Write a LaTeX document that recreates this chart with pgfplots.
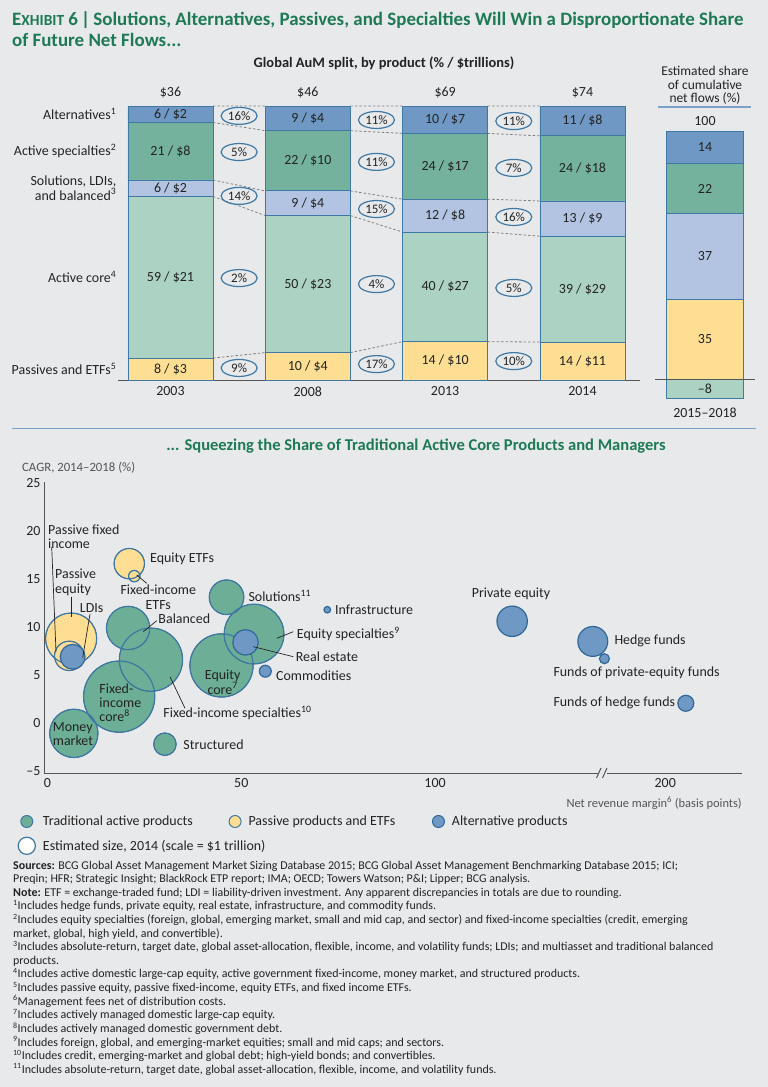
\documentclass[border=0pt]{standalone}
\usepackage{fontspec}
\setmainfont{Carlito}
\usepackage{pgfplots}
\pgfplotsset{compat=1.18}
\usepackage{pgfplotstable}
\usetikzlibrary{shapes.geometric}

\definecolor{bgc}{RGB}{232,233,235}
\definecolor{titlegreen}{RGB}{29,122,84}
\definecolor{altc}{RGB}{112,152,196}
\definecolor{specc}{RGB}{116,178,157}
\definecolor{solc}{RGB}{178,196,226}
\definecolor{corec}{RGB}{172,210,196}
\definecolor{passc}{RGB}{253,222,146}
\definecolor{bline}{RGB}{62,120,165}
\definecolor{dkblue}{RGB}{47,104,152}
\definecolor{bgreen}{RGB}{108,174,150}
\definecolor{axgray}{RGB}{85,85,85}
\definecolor{txt}{RGB}{35,35,35}
\definecolor{sepblue}{RGB}{126,159,198}

\protected\def\dol{\$}

% AuM share by product (%), bottom to top; 2014 rescaled to 100
\pgfplotstableread{
x pass core sol spec alt
0 8 59 6 21 6
1 10 50 9 22 9
2 14 40 12 24 10
3 13.86 38.61 12.87 23.76 10.89
}\aumshare

% estimated share of cumulative net flows 2015-2018 (positive parts)
\pgfplotstableread{
x pass sol spec alt
0 35 37 22 14
}\flows

% bubbles: net revenue margin (bp; points after the axis break on display scale),
% CAGR 2014-2018 (%), estimated size 2014 ($ trillions)
\pgfplotstableread{
name x y size
FIcore 18.5 2.75 16.5
FIspec 26.7 6.6 13.0
EqCore 44.9 6.0 13.0
EqSpec 53.3 9.27 11.6
MoneyMkt 6.8 -1.07 7.6
Balanced 20.8 9.9 6.1
Solutions 46.2 13.1 3.9
Structured 30.3 -2.2 1.65
}\bubtrad
\pgfplotstableread{
name x y size
PassEq 6.1 8.8 8.5
EqETF 21.1 16.6 3.0
PassFI 5.6 7.0 2.8
FIETF 22.4 15.3 0.42
}\bubpass
\pgfplotstableread{
name x y size
PrivEq 119.9 10.6 3.0
Hedge 140.7 8.5 2.9
RealEst 51.1 8.4 2.1
LDI 6.5 6.9 2.0
FoHF 164.7 2.06 0.83
Commod 56.2 5.4 0.46
FoPE 143.7 6.7 0.32
Infra 72.2 11.8 0.14
}\bubalt

\tikzset{
  lbl/.style={font=\fontsize{14}{14.2}\selectfont, text=txt, inner sep=0pt},
  lead/.style={draw=txt, line width=0.7bp},
}
\pgfplotsset{
  bubsize/.style={
    visualization depends on={8.8*sqrt(\thisrow{size}) \as \rad},
    scatter/@pre marker code/.append style={/tikz/mark size=\rad}},
}

\begin{document}
\begin{tikzpicture}
\fill[bgc] (0,0) rectangle (768bp,-1087bp);

% ---------- top left: stacked bars ----------
\begin{axis}[
  at={(118bp,-380bp)}, anchor=south west,
  width=522bp, height=274bp, scale only axis,
  xmin=-0.382, xmax=3.419, ymin=0, ymax=100,
  ybar stacked, bar width=0.619,
  axis x line*=bottom, axis y line*=left,
  x axis line style={draw=axgray, line width=1bp, -},
  y axis line style={draw=none},
  major tick length=0pt,
  xtick={0,1,2,3}, xticklabels={2003,2008,2013,2014},
  ytick={4,37.5,70,83.5,97},
  yticklabels={Passives and ETFs\textsuperscript{5}, Active core\textsuperscript{4},
    {Solutions, LDIs,\\and balanced\textsuperscript{3}}, Active specialties\textsuperscript{2},
    Alternatives\textsuperscript{1}},
  tick label style={font=\fontsize{14}{14.2}\selectfont, text=txt},
  yticklabel style={align=right, inner sep=1.5bp},
  xticklabel style={yshift=-3bp},
  every axis plot/.append style={draw=bline, line width=0.9bp},
]
\addplot[fill=passc] table[x=x,y=pass]{\aumshare};
\addplot[fill=corec] table[x=x,y=core]{\aumshare};
\addplot[fill=solc] table[x=x,y=sol]{\aumshare};
\addplot[fill=specc] table[x=x,y=spec]{\aumshare};
\addplot[fill=altc] table[x=x,y=alt]{\aumshare};
\end{axis}

% overlay: connectors, segment labels, growth ovals
\begin{axis}[
  at={(118bp,-380bp)}, anchor=south west,
  width=522bp, height=274bp, scale only axis,
  xmin=-0.382, xmax=3.419, ymin=0, ymax=100,
  hide axis, clip=false,
]
\addplot[draw=gray, dash pattern=on 2.5bp off 2bp, line width=0.8bp, unbounded coords=jump] table {
x y
0.3095 8
0.6905 10
nan nan
0.3095 67
0.6905 60
nan nan
0.3095 73
0.6905 69
nan nan
0.3095 94
0.6905 91
nan nan
0.3095 100
0.6905 100
nan nan
1.3095 10
1.6905 14
nan nan
1.3095 60
1.6905 54
nan nan
1.3095 69
1.6905 66
nan nan
1.3095 91
1.6905 90
nan nan
1.3095 100
1.6905 100
nan nan
2.3095 14
2.6905 13.86
nan nan
2.3095 54
2.6905 52.47
nan nan
2.3095 66
2.6905 65.34
nan nan
2.3095 90
2.6905 89.1
nan nan
2.3095 100
2.6905 100
};
\addplot[draw=none, mark=none, nodes near coords, point meta=explicit symbolic,
  every node near coord/.append style={lbl, anchor=center}]
  table[col sep=comma, meta=lab] {
x,y,lab
0,4,8 / \dol3
0,37.5,59 / \dol21
0,70,6 / \dol2
0,83.5,21 / \dol8
0,97,6 / \dol2
1,5,10 / \dol4
1,35,50 / \dol23
1,64.5,9 / \dol4
1,80,22 / \dol10
1,95.5,9 / \dol4
2,7,14 / \dol10
2,34,40 / \dol27
2,60,12 / \dol8
2,78,24 / \dol17
2,95,10 / \dol7
3,6.93,14 / \dol11
3,33.2,39 / \dol29
3,58.9,13 / \dol9
3,77.2,24 / \dol18
3,94.6,11 / \dol8
};
\addplot[draw=none, mark=none, nodes near coords, point meta=explicit symbolic,
  every node near coord/.append style={anchor=center, ellipse, draw=bline, line width=1.2bp,
    minimum width=36bp, minimum height=17bp, inner sep=0pt,
    font=\fontsize{13}{13}\selectfont, text=txt}]
  table[col sep=comma, meta=lab] {
x,y,lab
0.5,96.4,16\%
0.5,83.2,5\%
0.5,67.2,14\%
0.5,37.2,2\%
0.5,4.4,9\%
1.5,94.9,11\%
1.5,79.6,11\%
1.5,62.4,15\%
1.5,35.0,4\%
1.5,5.8,17\%
2.5,94.5,11\%
2.5,77.4,7\%
2.5,59.5,16\%
2.5,33.6,5\%
2.5,6.9,10\%
};
\end{axis}

% ---------- top right: share of net flows ----------
\begin{axis}[
  at={(655bp,-398bp)}, anchor=south west,
  width=100bp, height=267bp, scale only axis,
  xmin=-0.5, xmax=0.5, ymin=-8, ymax=108,
  hide axis, ybar stacked, bar width=0.77,
  every axis plot/.append style={draw=bline, line width=0.9bp},
]
\addplot[fill=passc] table[x=x,y=pass]{\flows};
\addplot[fill=solc] table[x=x,y=sol]{\flows};
\addplot[fill=specc] table[x=x,y=spec]{\flows};
\addplot[fill=altc] table[x=x,y=alt]{\flows};
\end{axis}
\begin{axis}[
  at={(655bp,-398bp)}, anchor=south west,
  width=100bp, height=267bp, scale only axis,
  xmin=-0.5, xmax=0.5, ymin=-8, ymax=108,
  hide axis, clip=false,
]
\addplot[ybar, bar width=0.77, bar shift=0pt, fill=corec, draw=bline, line width=0.9bp]
  coordinates {(0,-8)};
\draw[axgray, line width=1bp] (axis cs:-0.5,0) -- (axis cs:0.5,0);
\addplot[draw=none, mark=none, nodes near coords, point meta=explicit symbolic,
  every node near coord/.append style={lbl, anchor=center}]
  table[col sep=comma, meta=lab] {
x,y,lab
0,101,14
0,83,22
0,53.5,37
0,17.5,35
0,-4,–8
};
\end{axis}

% ---------- bottom: bubble chart ----------
\begin{axis}[
  at={(44bp,-773bp)}, anchor=south west,
  width=698bp, height=291bp, scale only axis,
  xmin=-0.9, xmax=179.2, ymin=-5.2, ymax=25.1,
  axis x line*=bottom, axis y line*=left,
  axis line style={draw=axgray, line width=1bp, -},
  major tick length=0pt,
  xtick={0,50,100,159.4}, xticklabels={0,50,100,200},
  ytick={-5,0,5,10,15,20,25}, yticklabels={–5,0,5,10,15,20,25},
  tick label style={font=\fontsize{14}{14.2}\selectfont, text=txt},
  xticklabel style={yshift=-2bp},
  clip=false,
  legend columns=3,
  legend style={at={(axis description cs:-0.0381,-0.1399)}, anchor=north west,
    draw=none, fill=none, inner sep=0pt, row sep=7.5bp,
    font=\fontsize{14}{14.2}\selectfont, text=txt,
    /tikz/every odd column/.append style={column sep=5bp}},
]
% fills first, then outlines, so overlapping circles keep both rims visible
\addplot[scatter, only marks, mark=*,
  scatter/use mapped color={draw=none, fill=bgreen},
  bubsize, forget plot] table[x=x, y=y]{\bubtrad};
\addplot[scatter, only marks, mark=*,
  scatter/use mapped color={draw=none, fill=passc},
  bubsize, forget plot] table[x=x, y=y]{\bubpass};
\addplot[scatter, only marks, mark=o,
  scatter/use mapped color={draw=bline, fill=none, line width=1.2bp},
  bubsize, forget plot] table[x=x, y=y]{\bubtrad};
\addplot[scatter, only marks, mark=o,
  scatter/use mapped color={draw=bline, fill=none, line width=1.2bp},
  bubsize, forget plot] table[x=x, y=y]{\bubpass};
\addplot[scatter, only marks, mark=*,
  scatter/use mapped color={draw=dkblue, fill=altc, line width=1.2bp},
  bubsize, forget plot] table[x=x, y=y]{\bubalt};
\addlegendimage{legend image code/.code={\draw[fill=bgreen, draw=bline, line width=1bp] (0bp,0bp) circle (6bp);}}
\addlegendentry{\makebox[183.6bp][l]{Traditional active products}}
\addlegendimage{legend image code/.code={\draw[fill=passc, draw=bline, line width=1bp] (0bp,0bp) circle (6bp);}}
\addlegendentry{\makebox[181.4bp][l]{Passive products and ETFs}}
\addlegendimage{legend image code/.code={\draw[fill=altc, draw=dkblue, line width=1bp] (0bp,0bp) circle (6bp);}}
\addlegendentry{Alternative products}
\addlegendimage{legend image code/.code={\draw[fill=white, draw=bline, line width=1.2bp] (0bp,0bp) circle (8.6bp);}}
\addlegendentry{\makebox[183.6bp][l]{Estimated size, 2014 (scale = \$1 trillion)}}
\end{axis}

% ---------- texts in pixel coordinates ----------
\begin{scope}[x=1bp, y=-1bp]
\node[anchor=west, inner sep=0pt, text=titlegreen, font=\fontsize{19}{21}\selectfont\bfseries] at (12,20)
  {E{\fontsize{15.5}{17}\selectfont XHIBIT} 6\,|\,Solutions, Alternatives, Passives, and Specialties Will Win a Disproportionate Share};
\node[anchor=west, inner sep=0pt, text=titlegreen, font=\fontsize{19}{21}\selectfont\bfseries] at (12,40)
  {of Future Net Flows...};
\node[lbl, font=\fontsize{14.5}{14}\selectfont\bfseries] at (384,63) {Global AuM split, by product (\% / \$trillions)};
\node[lbl] at (170.5,92.7) {\$36};
\node[lbl] at (307.8,92.7) {\$46};
\node[lbl] at (445.2,92.7) {\$69};
\node[lbl] at (582.5,92.7) {\$74};
\node[lbl, align=center, font=\fontsize{13.5}{13.8}\selectfont] at (705,85.5) {Estimated share\\of cumulative\\net flows (\%)};
\draw[sepblue, line width=1.5bp] (658,107) -- (751,107);
\node[lbl] at (705,120.7) {100};
\node[lbl] at (705,413) {2015–2018};
\draw[sepblue, line width=1bp] (12,428.3) -- (756,428.3);

\node[anchor=center, inner sep=0pt, text=titlegreen, font=\fontsize{16.6}{18}\selectfont\bfseries] at (416,446)
  {... Squeezing the Share of Traditional Active Core Products and Managers};
\node[anchor=west, inner sep=0pt, text=axgray, font=\fontsize{12.8}{13}\selectfont] at (22,467.3) {CAGR, 2014–2018 (\%)};
\node[anchor=east, inner sep=0pt, text=axgray, font=\fontsize{12.5}{13}\selectfont] at (742,803)
  {Net revenue margin\textsuperscript{6} (basis points)};

% x-axis break
\fill[bgc] (598,769) rectangle (607,777);
\draw[axgray, line width=1bp] (596.5,778) -- (601,768) (602.5,778) -- (607,768);

% bubble labels
\node[lbl, anchor=west, align=left] at (48,536.5) {Passive fixed\\income};
\node[lbl, anchor=west, align=left] at (55,582.3) {Passive\\equity};
\node[lbl] at (91.7,607.7) {LDIs};
\node[lbl, anchor=west] at (150,559.3) {Equity ETFs};
\node[lbl, align=center] at (158.3,597.2) {Fixed-income\\ETFs};
\node[lbl, anchor=west] at (158.3,619) {Balanced};
\node[lbl, anchor=west, align=left] at (99.3,702.7) {Fixed-\\income\\core\textsuperscript{8}};
\node[lbl, anchor=west, align=left] at (52.7,734.3) {Money\\market};
\node[lbl, anchor=west] at (183.3,744.3) {Structured};
\node[lbl, anchor=west] at (163.3,712.7) {Fixed-income specialties\textsuperscript{10}};
\node[lbl, anchor=west] at (248.3,595.7) {Solutions\textsuperscript{11}};
\node[lbl, anchor=west] at (335,610) {Infrastructure};
\node[lbl, anchor=west] at (296.7,634) {Equity specialties\textsuperscript{9}};
\node[lbl, anchor=west] at (295.7,656.7) {Real estate};
\node[lbl, anchor=west] at (276,676) {Commodities};
\node[lbl, align=center] at (222.7,682.2) {Equity\\core\textsuperscript{7}};
\node[lbl] at (511,594.3) {Private equity};
\node[lbl, anchor=west] at (614.3,641) {Hedge funds};
\node[lbl, anchor=west] at (553.3,672.3) {Funds of private-equity funds};
\node[lbl, anchor=west] at (553.3,702.7) {Funds of hedge funds};

\draw[lead] (51.7,547) -- (56,651.7);
\draw[lead] (71,596.7) -- (71,616.7);
\draw[lead] (90,614) -- (82.7,657.7);
\draw[lead] (146.7,583.3) -- (136.7,575);
\draw[lead] (156.7,620.7) -- (143.3,631.7);
\draw[lead] (185,708.3) -- (170,676.7);
\draw[lead] (293.3,631.7) -- (276.7,638.3);
\draw[lead] (293.3,656.7) -- (253.3,646.7);

% sources and notes
\node[anchor=north west, inner sep=0pt, align=left, text=txt, font=\fontsize{12}{13.67}\selectfont] at (13,860.5) {%
\textbf{Sources:} BCG Global Asset Management Market Sizing Database 2015; BCG Global Asset Management Benchmarking Database 2015; ICI;\\
Preqin; HFR; Strategic Insight; BlackRock ETP report; IMA; OECD; Towers Watson; P\&I; Lipper; BCG analysis.\\
\textbf{Note:} ETF = exchange-traded fund; LDI = liability-driven investment. Any apparent discrepancies in totals are due to rounding.\\
\textsuperscript{1}Includes hedge funds, private equity, real estate, infrastructure, and commodity funds.\\
\textsuperscript{2}Includes equity specialties (foreign, global, emerging market, small and mid cap, and sector) and fixed-income specialties (credit, emerging\\
market, global, high yield, and convertible).\\
\textsuperscript{3}Includes absolute-return, target date, global asset-allocation, flexible, income, and volatility funds; LDIs; and multiasset and traditional balanced\\
products.\\
\textsuperscript{4}Includes active domestic large-cap equity, active government fixed-income, money market, and structured products.\\
\textsuperscript{5}Includes passive equity, passive fixed-income, equity ETFs, and fixed income ETFs.\\
\textsuperscript{6}Management fees net of distribution costs.\\
\textsuperscript{7}Includes actively managed domestic large-cap equity.\\
\textsuperscript{8}Includes actively managed domestic government debt.\\
\textsuperscript{9}Includes foreign, global, and emerging-market equities; small and mid caps; and sectors.\\
\textsuperscript{10}Includes credit, emerging-market and global debt; high-yield bonds; and convertibles.\\
\textsuperscript{11}Includes absolute-return, target date, global asset-allocation, flexible, income, and volatility funds.};
\end{scope}

\pgfresetboundingbox
\path[use as bounding box] (0,0) rectangle (768bp,-1087bp);
\end{tikzpicture}
\end{document}
